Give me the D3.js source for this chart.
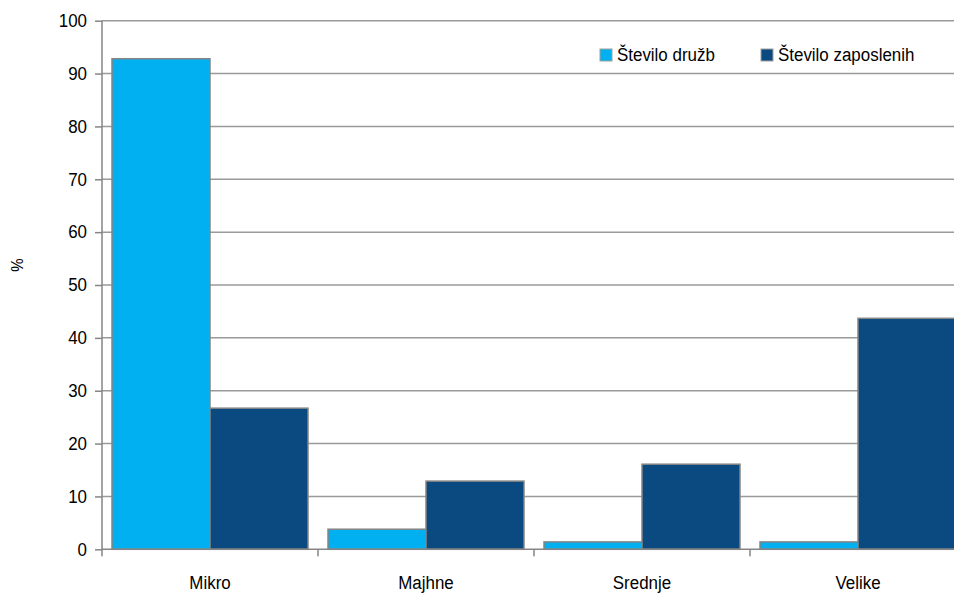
<!DOCTYPE html>
<html><head><meta charset="utf-8">
<script src="https://cdn.jsdelivr.net/npm/d3@7"></script>
<style>
html,body{margin:0;padding:0;background:#fff;overflow:hidden;}
text{font-family:"Liberation Sans",Arial,sans-serif;fill:#000;}
</style></head>
<body><svg id="c" width="954" height="593"></svg>
<script>
const categories = ["Mikro","Majhne","Srednje","Velike"];
const seriesNames = ["Število družb","Število zaposlenih"];
const druzbe = [92.8, 3.8, 1.4, 1.4];
const zaposleni = [26.7, 12.9, 16.1, 43.7];
const yTicks = [0,10,20,30,40,50,60,70,80,90,100];
const colors = ["#00b0f0","#0b4a80"];

const svg = d3.select("#c");
const m = {left:102, top:20.7, bottom:549.3, right:966};
const x = d3.scaleBand().domain(categories).range([m.left, m.right]).paddingInner(0).paddingOuter(0);
const xs = d3.scaleBand().domain(seriesNames).range([0, x.bandwidth()]).paddingInner(0).paddingOuter(10/98);
const y = d3.scaleLinear().domain([0,100]).range([m.bottom, m.top]);

// gridlines
svg.append("g").selectAll("line").data(yTicks.filter(d=>d>0)).join("line")
  .attr("x1", m.left).attr("x2", 954)
  .attr("y1", d=>y(d)).attr("y2", d=>y(d))
  .attr("stroke","#9a9a9a").attr("stroke-width",1.5);

// bars
const data = categories.map((c,i)=>({c, vals:[druzbe[i], zaposleni[i]]}));
const g = svg.append("g");
data.forEach(d=>{
  d.vals.forEach((v,j)=>{
    g.append("rect")
      .attr("x", x(d.c)+xs(seriesNames[j]))
      .attr("y", y(v))
      .attr("width", xs.bandwidth())
      .attr("height", y(0)-y(v))
      .attr("fill", colors[j])
      .attr("stroke","#858585").attr("stroke-width",1.5);
  });
});

// y axis
const yAxis = d3.axisLeft(y).tickValues(yTicks).tickSize(7).tickPadding(8);
const ya = svg.append("g").attr("transform",`translate(${m.left},0)`).call(yAxis);
ya.select(".domain").attr("stroke","#858585").attr("stroke-width",1.5).attr("d",`M0,${m.top}V${m.bottom+7}`);
ya.selectAll(".tick line").attr("stroke","#858585").attr("stroke-width",1.5);
ya.selectAll(".tick text").style("font-size","18px").attr("fill","#000");

// x axis baseline
svg.append("line").attr("x1",m.left).attr("x2",954).attr("y1",y(0)).attr("y2",y(0))
  .attr("stroke","#858585").attr("stroke-width",1.5);
// x ticks at band boundaries
svg.append("g").selectAll("line").data(categories.slice(1)).join("line")
  .attr("x1",d=>x(d)).attr("x2",d=>x(d)).attr("y1",y(0)).attr("y2",y(0)+7)
  .attr("stroke","#858585").attr("stroke-width",1.5);
// x labels
svg.append("g").selectAll("text").data(categories).join("text")
  .attr("x",d=>x(d)+x.bandwidth()/2).attr("y",588.5)
  .attr("text-anchor","middle").style("font-size","18px").text(d=>d);

// y title
svg.append("text").attr("transform","translate(23,265) rotate(-90)")
  .attr("text-anchor","middle").style("font-size","16px").text("%");

// legend
const legX = [600, 761];
seriesNames.forEach((s,j)=>{
  svg.append("rect").attr("x",legX[j]).attr("y",49).attr("width",12).attr("height",12)
    .attr("fill",colors[j]).attr("stroke","#a0a0a0").attr("stroke-width",1);
  svg.append("text").attr("x",legX[j]+17).attr("y",61).style("font-size","18px").text(s);
});

// slight horizontal condensing to mimic the narrow look
svg.selectAll("text").each(function(){
  const w = this.getComputedTextLength();
  if (w > 0) d3.select(this).attr("textLength", w*0.94).attr("lengthAdjust","spacingAndGlyphs");
});
</script></body></html>
